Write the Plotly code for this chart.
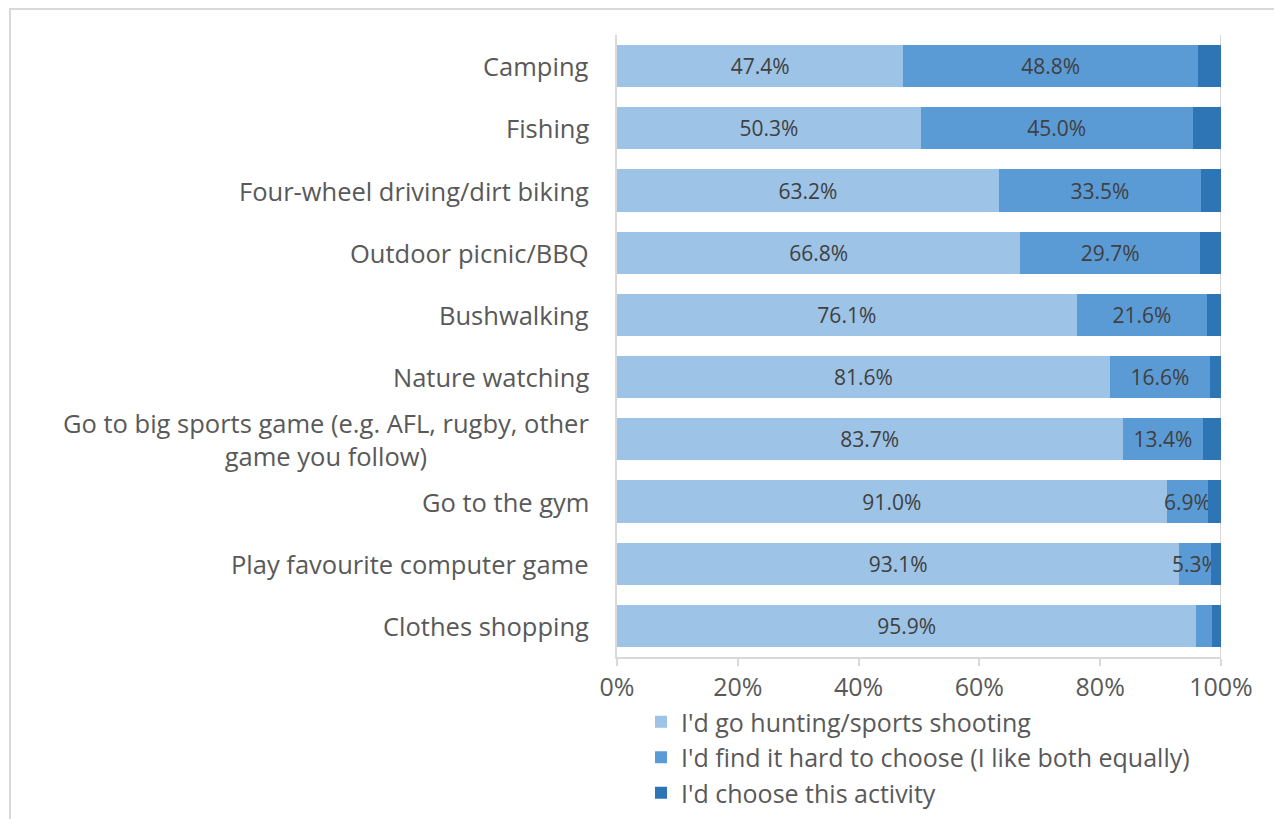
import plotly.graph_objects as go

categories = [
    "Camping",
    "Fishing",
    "Four-wheel driving/dirt biking",
    "Outdoor picnic/BBQ",
    "Bushwalking",
    "Nature watching",
    "Go to big sports game (e.g. AFL, rugby, other<br>game you follow)",
    "Go to the gym",
    "Play favourite computer game",
    "Clothes shopping",
]
hunting = [47.4, 50.3, 63.2, 66.8, 76.1, 81.6, 83.7, 91.0, 93.1, 95.9]
hard_to_choose = [48.8, 45.0, 33.5, 29.7, 21.6, 16.6, 13.4, 6.9, 5.3, 2.6]
this_activity = [3.8, 4.7, 3.3, 3.5, 2.3, 1.8, 2.9, 2.1, 1.6, 1.5]
series_names = [
    "I'd go hunting/sports shooting",
    "I'd find it hard to choose (I like both equally)",
    "I'd choose this activity",
]
tick_vals = [0, 20, 40, 60, 80, 100]
tick_text = ["0%", "20%", "40%", "60%", "80%", "100%"]

colors = ["#9DC3E6", "#5B9BD5", "#2E75B6"]
FONT = "Open Sans"
TXT = "#595959"

# category keys without markup so the axis keeps them unique
keys = [c.replace("<br>", " ") for c in categories]

fig = go.Figure()
label_flags = [True, True, False]
for name, vals, col, show in zip(series_names, [hunting, hard_to_choose, this_activity], colors, label_flags):
    texts = [f"{v:.1f}%" if v >= 4 else "" for v in vals] if show else None
    fig.add_trace(go.Bar(
        y=keys, x=vals, name=name, orientation="h",
        marker=dict(color=col, line=dict(width=0)),
        text=texts, textposition="inside" if show else "none",
        insidetextanchor="middle", textangle=0,
        textfont=dict(family=FONT, size=21, color="#404040"),
        constraintext="none",
        cliponaxis=False,
        legendgroup=name,
    ))

# category labels (centred multi-line text, right edge near the axis)
for key, cat in zip(keys, categories):
    fig.add_annotation(
        x=0, xref="paper", xanchor="right", xshift=-26,
        y=key, yref="y", yanchor="middle",
        text=cat, showarrow=False, align="center",
        font=dict(family=FONT, size=25.5, color=TXT),
    )

# outer chart frame
fig.add_shape(type="rect", xref="paper", yref="paper",
              x0=-607/604, x1=1.2, y0=-0.5, y1=1 + 26/622,
              line=dict(color="#D9D9D9", width=2), layer="below")
# 100% reference line
fig.add_shape(type="line", xref="x", yref="paper", x0=100, x1=100, y0=0, y1=1,
              line=dict(color="#D9D9D9", width=2), layer="below")

fig.update_layout(
    width=1274, height=819,
    margin=dict(l=617, r=53, t=35, b=162, autoexpand=False),
    barmode="stack", bargap=0.32,
    plot_bgcolor="white", paper_bgcolor="white",
    font=dict(family=FONT, color=TXT),
    showlegend=True,
    legend=dict(
        xref="container", yref="container",
        x=641/1274, y=1 - 699/819, xanchor="left", yanchor="top",
        font=dict(family=FONT, size=25, color=TXT),
        traceorder="normal", tracegroupgap=3,
        itemwidth=30,
    ),
    xaxis=dict(
        range=[0, 100], tickvals=tick_vals, ticktext=tick_text,
        showgrid=False, zeroline=False,
        showline=True, linecolor="#D9D9D9", linewidth=2,
        ticks="outside", ticklen=7, tickcolor="#D9D9D9", tickwidth=2,
        tickfont=dict(family=FONT, size=25, color=TXT),
        fixedrange=True,
    ),
    yaxis=dict(
        categoryorder="array", categoryarray=keys[::-1],
        showticklabels=False, showgrid=False, zeroline=False,
        showline=True, linecolor="#D9D9D9", linewidth=2,
        fixedrange=True,
    ),
)

fig.write_html("out.html")
